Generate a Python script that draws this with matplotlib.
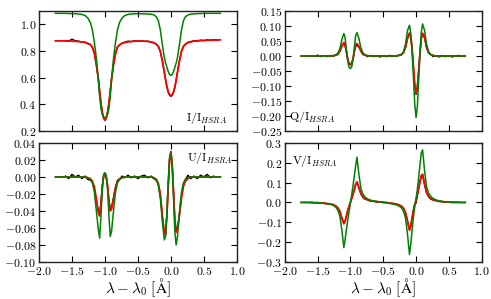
import numpy as np
import matplotlib
matplotlib.use('Agg')
import matplotlib.pyplot as plt

# --- estilo ---
plt.rcParams['font.family'] = 'serif'
plt.rcParams['font.serif'] = ['cmr10']
plt.rcParams['mathtext.fontset'] = 'cm'
plt.rcParams['axes.formatter.use_mathtext'] = True
plt.rcParams['axes.unicode_minus'] = True

nan = np.nan

# --- dados: comprimento de onda (A) ---
wav = [-1.75, -1.70, -1.65, -1.60, -1.55, -1.50, -1.45, -1.40, -1.35,
       -1.30, -1.26, -1.22, -1.19, -1.16, -1.13, -1.10, -1.08, -1.06, -1.04, -1.02,
       -1.00,
       -0.98, -0.96, -0.94, -0.92, -0.90, -0.87, -0.84, -0.81, -0.78, -0.74, -0.70,
       -0.65, -0.60, -0.55, -0.50, -0.45, -0.40, -0.35,
       -0.30, -0.26, -0.22, -0.19, -0.16, -0.13, -0.10, -0.08, -0.06, -0.04, -0.02,
       0.00,
       0.02, 0.04, 0.06, 0.08, 0.10, 0.13, 0.16, 0.19, 0.22, 0.26, 0.30,
       0.35, 0.40, 0.45, 0.50, 0.55, 0.60, 0.65, 0.70, 0.75]

# Stokes I
i_obs = [nan, nan, nan, 0.878, 0.874, 0.889, 0.877, 0.874, 0.866,
         0.866, 0.855, 0.849, 0.827, 0.783, 0.696, 0.592, 0.493, 0.407, 0.338, 0.296,
         0.282,
         0.296, 0.342, 0.403, 0.497, 0.588, 0.700, 0.779, 0.831, 0.845, 0.860, 0.866,
         0.874, 0.870, 0.877, 0.873, 0.878, 0.872, 0.874,
         0.866, 0.864, 0.849, 0.836, 0.795, 0.728, 0.641, 0.583, 0.529, 0.490, 0.468,
         0.460,
         0.468, 0.490, 0.529, 0.583, 0.641, 0.728, 0.795, 0.836, 0.850, 0.866, 0.868,
         0.878, 0.874, 0.881, 0.877, 0.884, 0.879, 0.886, 0.880, nan]
i_fit = [0.876, 0.876, 0.876, 0.876, 0.875, 0.874, 0.873, 0.871, 0.868,
         0.864, 0.857, 0.847, 0.829, 0.781, 0.698, 0.590, 0.495, 0.405, 0.340, 0.298,
         0.280,
         0.298, 0.340, 0.405, 0.495, 0.590, 0.698, 0.781, 0.829, 0.847, 0.857, 0.864,
         0.869, 0.872, 0.874, 0.875, 0.875, 0.874, 0.872,
         0.868, 0.861, 0.851, 0.834, 0.797, 0.726, 0.643, 0.581, 0.531, 0.494, 0.473,
         0.465,
         0.473, 0.494, 0.531, 0.581, 0.643, 0.726, 0.797, 0.834, 0.852, 0.863, 0.870,
         0.874, 0.877, 0.879, 0.880, 0.881, 0.882, 0.883, 0.883, 0.884]
i_mod = [1.083, 1.083, 1.083, 1.083, 1.082, 1.081, 1.080, 1.078, 1.075,
         1.066, 1.048, 1.013, 0.958, 0.864, 0.746, 0.582, 0.457, 0.370, 0.323, 0.304,
         0.300,
         0.304, 0.323, 0.370, 0.457, 0.582, 0.746, 0.864, 0.958, 1.013, 1.048, 1.066,
         1.075, 1.078, 1.080, 1.080, 1.080, 1.079, 1.077,
         1.077, 1.071, 1.057, 1.027, 0.957, 0.850, 0.752, 0.710, 0.678, 0.645, 0.624,
         0.617,
         0.624, 0.645, 0.678, 0.710, 0.752, 0.850, 0.957, 1.027, 1.057, 1.071, 1.077,
         1.079, 1.081, 1.082, 1.082, 1.083, 1.083, 1.083, 1.083, 1.083]

# Stokes Q
q_obs = [nan, nan, nan, 0.001, -0.001, 0.003, -0.002, 0.001, -0.002,
         0.002, -0.001, 0.004, 0.005, 0.017, 0.032, 0.043, 0.033, 0.013, -0.010, -0.026,
         -0.030,
         -0.022, -0.010, 0.014, 0.032, 0.036, 0.030, 0.017, 0.005, 0.004, -0.002, 0.002,
         -0.002, 0.001, -0.003, 0.000, -0.002, 0.002, -0.001,
         0.001, 0.003, 0.004, 0.013, 0.028, 0.058, 0.075, 0.063, 0.023, -0.037, -0.097,
         -0.128,
         -0.103, -0.048, 0.012, 0.058, 0.074, 0.061, 0.028, 0.010, 0.006, -0.002, 0.001,
         -0.003, 0.002, -0.002, 0.001, -0.003, 0.000, 0.002, -0.001, nan]
q_fit = [0.0, 0.0, 0.0, 0.0, 0.0, 0.0, 0.0, 0.0, 0.0,
         0.000, 0.001, 0.003, 0.007, 0.016, 0.034, 0.045, 0.036, 0.012, -0.012, -0.025,
         -0.028,
         -0.024, -0.009, 0.016, 0.036, 0.042, 0.032, 0.016, 0.007, 0.003, 0.001, 0.000,
         0.0, 0.0, 0.0, 0.0, 0.0, 0.0, 0.0,
         0.000, 0.002, 0.005, 0.012, 0.030, 0.060, 0.077, 0.065, 0.025, -0.035, -0.095,
         -0.124,
         -0.105, -0.050, 0.010, 0.060, 0.076, 0.063, 0.030, 0.012, 0.005, 0.002, 0.000,
         0.0, 0.0, 0.0, 0.0, 0.0, 0.0, 0.0, 0.0, 0.0]
q_mod = [0.0, 0.0, 0.0, 0.0, 0.0, 0.0, 0.0, 0.0, 0.0,
         0.000, 0.001, 0.004, 0.010, 0.025, 0.055, 0.075, 0.060, 0.020, -0.018, -0.038,
         -0.042,
         -0.036, -0.012, 0.030, 0.068, 0.078, 0.058, 0.027, 0.011, 0.004, 0.001, 0.000,
         0.0, 0.0, 0.0, 0.0, 0.0, 0.0, 0.0,
         0.000, 0.002, 0.006, 0.015, 0.040, 0.085, 0.103, 0.075, 0.015, -0.070, -0.160,
         -0.205,
         -0.170, -0.080, 0.010, 0.080, 0.107, 0.085, 0.040, 0.015, 0.006, 0.002, 0.000,
         0.0, 0.0, 0.0, 0.0, 0.0, 0.0, 0.0, 0.0, 0.0]

# Stokes U
u_obs = [nan, nan, nan, 0.001, -0.002, 0.003, 0.000, 0.002, -0.002,
         0.001, -0.003, -0.004, -0.006, -0.014, -0.028, -0.040, -0.044, -0.030, -0.010, 0.001,
         0.003,
         -0.001, -0.012, -0.027, -0.038, -0.036, -0.024, -0.012, -0.004, -0.003, 0.001, -0.001,
         0.002, -0.001, 0.001, -0.002, 0.001, 0.002, -0.001,
         0.001, -0.002, -0.004, -0.009, -0.022, -0.047, -0.067, -0.066, -0.043, -0.011, 0.021,
         0.029,
         0.014, -0.019, -0.050, -0.063, -0.060, -0.043, -0.023, -0.009, -0.003, 0.002, -0.002,
         0.001, -0.002, 0.002, 0.000, 0.003, -0.001, 0.001, nan, nan]
u_fit = [0.0, 0.0, 0.0, 0.0, 0.0, 0.0, 0.0, 0.0, 0.0,
         0.000, -0.001, -0.002, -0.005, -0.012, -0.026, -0.042, -0.046, -0.032, -0.012, 0.000,
         0.002,
         0.000, -0.010, -0.028, -0.040, -0.038, -0.026, -0.013, -0.006, -0.002, -0.001, 0.000,
         0.0, 0.0, 0.0, 0.0, 0.0, 0.0, 0.0,
         0.000, -0.001, -0.003, -0.008, -0.020, -0.045, -0.066, -0.068, -0.045, -0.010, 0.022,
         0.030,
         0.015, -0.018, -0.052, -0.065, -0.062, -0.045, -0.025, -0.011, -0.005, -0.002, 0.000,
         0.0, 0.0, 0.0, 0.0, 0.0, 0.0, 0.0, 0.0, 0.0]
u_mod = [0.0, 0.0, 0.0, 0.0, 0.0, 0.0, 0.0, 0.0, 0.0,
         0.000, -0.001, -0.003, -0.007, -0.018, -0.040, -0.062, -0.072, -0.045, -0.015, 0.003,
         0.005,
         0.002, -0.015, -0.045, -0.070, -0.064, -0.040, -0.018, -0.007, -0.003, -0.001, 0.000,
         0.0, 0.0, 0.0, 0.0, 0.0, 0.0, 0.0,
         0.000, -0.001, -0.003, -0.010, -0.025, -0.052, -0.074, -0.070, -0.040, -0.005, 0.020,
         0.028,
         0.012, -0.025, -0.065, -0.080, -0.070, -0.042, -0.018, -0.007, -0.003, -0.001, 0.000,
         0.0, 0.0, 0.0, 0.0, 0.0, 0.0, 0.0, 0.0, 0.0]

# Stokes V
v_obs = [nan, nan, nan, 0.001, -0.002, 0.000, -0.004, -0.003, -0.007,
         -0.010, -0.011, -0.020, -0.029, -0.047, -0.080, -0.106, -0.093, -0.066, -0.040, -0.018,
         0.002,
         0.022, 0.040, 0.063, 0.090, 0.100, 0.073, 0.043, 0.026, 0.017, 0.014, 0.007,
         0.007, 0.002, 0.003, -0.001, 0.000, -0.004, -0.006,
         -0.009, -0.014, -0.020, -0.032, -0.054, -0.093, -0.137, -0.118, -0.078, -0.040, -0.008,
         -0.004,
         0.036, 0.070, 0.103, 0.133, 0.140, 0.090, 0.048, 0.031, 0.018, 0.012, 0.010,
         0.005, 0.004, 0.001, 0.002, -0.001, 0.001, 0.000, nan, nan]
v_fit = [0.000, 0.000, 0.000, -0.001, -0.001, -0.002, -0.003, -0.004, -0.006,
         -0.008, -0.012, -0.018, -0.027, -0.045, -0.078, -0.108, -0.095, -0.068, -0.042, -0.020,
         0.000,
         0.020, 0.042, 0.065, 0.092, 0.104, 0.075, 0.045, 0.028, 0.019, 0.013, 0.009,
         0.006, 0.004, 0.002, 0.001, -0.001, -0.003, -0.005,
         -0.008, -0.012, -0.019, -0.030, -0.052, -0.095, -0.140, -0.120, -0.080, -0.042, -0.012,
         0.012,
         0.040, 0.072, 0.105, 0.135, 0.142, 0.092, 0.050, 0.030, 0.020, 0.013, 0.009,
         0.006, 0.004, 0.002, 0.001, 0.001, 0.000, 0.000, 0.000, 0.000]
v_mod = [0.000, 0.000, 0.000, -0.001, -0.001, -0.002, -0.003, -0.005, -0.007,
         -0.010, -0.015, -0.025, -0.040, -0.070, -0.140, -0.228, -0.185, -0.135, -0.088, -0.045,
         -0.002,
         0.040, 0.085, 0.135, 0.185, 0.228, 0.140, 0.070, 0.042, 0.028, 0.018, 0.012,
         0.008, 0.005, 0.003, 0.001, -0.002, -0.005, -0.008,
         -0.012, -0.018, -0.028, -0.045, -0.080, -0.160, -0.262, -0.210, -0.140, -0.075, -0.020,
         0.020,
         0.065, 0.125, 0.190, 0.250, 0.265, 0.160, 0.080, 0.048, 0.032, 0.020, 0.013,
         0.008, 0.005, 0.003, 0.002, 0.001, 0.001, 0.000, 0.000, 0.000]

x_ticks = [-2.0, -1.5, -1.0, -0.5, 0.0, 0.5, 1.0]
i_ticks = [0.2, 0.4, 0.6, 0.8, 1.0]
q_ticks = [-0.25, -0.20, -0.15, -0.10, -0.05, 0.00, 0.05, 0.10, 0.15]
u_ticks = [-0.10, -0.08, -0.06, -0.04, -0.02, 0.00, 0.02, 0.04]
v_ticks = [-0.3, -0.2, -0.1, 0.0, 0.1, 0.2, 0.3]


def painel(ax, obs, fit, mod, ylim, yticks, rotulo, pos, ha, show_x):
    x = np.array(wav, dtype=float)
    ax.plot(x, np.array(obs, dtype=float), color='k', lw=1.0)
    ax.plot(x, np.array(fit, dtype=float), color='r', lw=1.3)
    ax.plot(x, np.array(mod, dtype=float), color='g', lw=1.1)
    ax.set_xlim(-2.0, 1.0)
    ax.set_ylim(*ylim)
    ax.set_xticks(x_ticks)
    ax.set_yticks(yticks)
    ax.tick_params(direction='in', top=True, right=True, length=4, width=0.8,
                   labelsize=8.5, pad=2)
    if not show_x:
        ax.tick_params(labelbottom=False)
    else:
        ax.set_xlabel(r'$\lambda-\lambda_0\ [\mathrm{\AA}]$', fontsize=11, labelpad=0)
    for s in ax.spines.values():
        s.set_linewidth(1.0)
        s.set_color('#222222')
    ax.text(pos[0], pos[1], rotulo, transform=ax.transAxes, ha=ha, va='center',
            fontsize=8.5)


fig = plt.figure(figsize=(4.91, 2.99), dpi=100)
ax_i = fig.add_axes([0.0794, 0.562, 0.403, 0.401])
ax_q = fig.add_axes([0.580, 0.562, 0.401, 0.401])
ax_u = fig.add_axes([0.0794, 0.124, 0.403, 0.398])
ax_v = fig.add_axes([0.580, 0.124, 0.401, 0.398])

painel(ax_i, i_obs, i_fit, i_mod, (0.2, 1.1), i_ticks, r'$\mathrm{I/I}_{HSRA}$',
       (0.95, 0.11), 'right', False)
painel(ax_q, q_obs, q_fit, q_mod, (-0.25, 0.15), q_ticks, r'$\mathrm{Q/I}_{HSRA}$',
       (0.02, 0.12), 'left', False)
painel(ax_u, u_obs, u_fit, u_mod, (-0.10, 0.04), u_ticks, r'$\mathrm{U/I}_{HSRA}$',
       (0.98, 0.87), 'right', True)
painel(ax_v, v_obs, v_fit, v_mod, (-0.3, 0.3), v_ticks, r'$\mathrm{V/I}_{HSRA}$',
       (0.035, 0.85), 'left', True)

fig.savefig('out.png', dpi=100)
